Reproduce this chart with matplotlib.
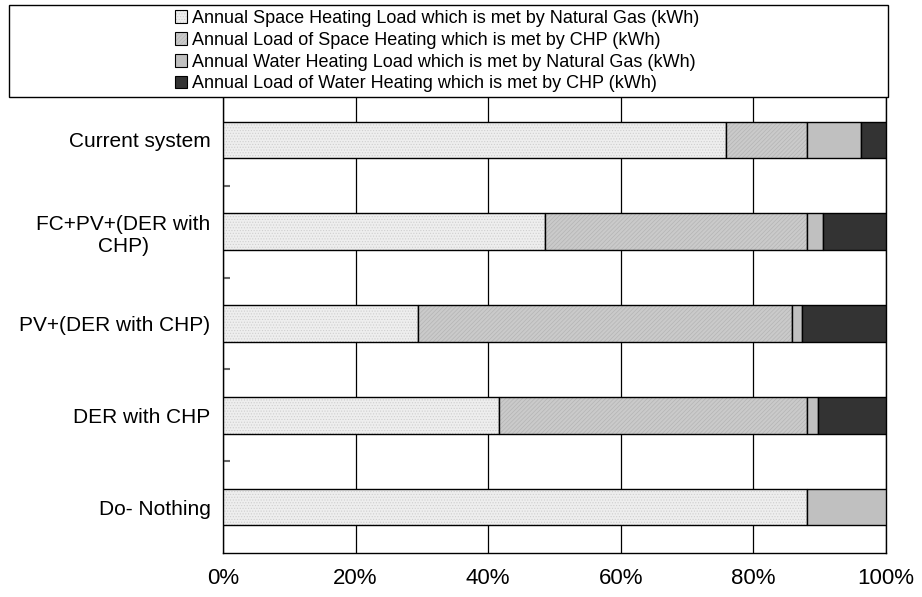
import matplotlib.pyplot as plt
import matplotlib.patches as mpatches
import numpy as np

plt.rcParams['font.family'] = ['Liberation Sans', 'DejaVu Sans']
plt.rcParams['hatch.linewidth'] = 0.5

scenarios = ['Current system', 'FC+PV+(DER with\nCHP)', 'PV+(DER with CHP)',
             'DER with CHP', 'Do- Nothing']
# shares in percent
space_gas = [75.9, 48.6, 29.4, 41.6, 88.1]
space_chp = [12.2, 39.5, 56.4, 46.5, 0.0]
water_gas = [8.1, 2.4, 1.5, 1.6, 11.9]
water_chp = [3.8, 9.5, 12.7, 10.3, 0.0]

series_labels = ['Annual Space Heating Load which is met by Natural Gas (kWh)',
                 'Annual Load of Space Heating which is met by CHP (kWh)',
                 'Annual Water Heating Load which is met by Natural Gas (kWh)',
                 'Annual Load of Water Heating which is met by CHP (kWh)']
face_colors = ['#eeeeee', '#cacaca', '#c0c0c0', '#333333']
hatches = ['......', '////////', None, None]
hatch_colors = ['#cfcfcf', '#b4b4b4', '#c0c0c0', '#333333']

fig = plt.figure(figsize=(9.22, 5.97), dpi=100)
ax = fig.add_axes([223/922, 44/597, 663/922, 459/597])

y = np.arange(len(scenarios))
left = np.zeros(len(scenarios))
handles = []
for vals, lab, fc, h, hc in zip([space_gas, space_chp, water_gas, water_chp],
                                series_labels, face_colors, hatches, hatch_colors):
    vals = np.array(vals)
    mask = vals > 0
    bars = ax.barh(y[mask], vals[mask], left=left[mask], height=0.4,
                   color=fc, edgecolor='black', linewidth=1.0, zorder=3,
                   hatch=h)
    for b in bars:
        b._hatch_color = plt.matplotlib.colors.to_rgba(hc)
    left = left + vals
    p = mpatches.Patch(facecolor=fc, edgecolor='black', linewidth=0.8,
                       hatch=h, label=lab)
    p._hatch_color = plt.matplotlib.colors.to_rgba(hc)
    handles.append(p)

ax.set_xlim(0, 100)
ax.set_ylim(len(scenarios) - 0.5, -0.5)
ax.set_xticks(np.arange(0, 101, 20))
ax.set_xticklabels([f'{v}%' for v in range(0, 101, 20)], fontsize=16)
ax.set_yticks(y)
ax.set_yticklabels(scenarios, fontsize=15, multialignment='center')
ax.set_yticks(np.arange(0.5, len(scenarios) - 0.5, 1), minor=True)
ax.tick_params(axis='y', which='major', length=0, pad=9)
ax.tick_params(axis='y', which='minor', direction='in', length=5, width=1.5,
               color='#666666')
ax.tick_params(axis='x', length=0, pad=11)
ax.grid(axis='x', color='black', linewidth=0.9, zorder=0)
ax.set_axisbelow(True)
for s in ax.spines.values():
    s.set_color('black')
    s.set_linewidth(1.0)

# legend box across the top
box = mpatches.Rectangle((9/922, 500/597), 879/922, 92/597, transform=fig.transFigure,
                         facecolor='white', edgecolor='black', linewidth=1.0, zorder=4)
fig.patches.append(box)
fig.legend(handles=handles, loc='upper left', bbox_to_anchor=(164/922, 598/597),
           frameon=False, fontsize=13, handlelength=0.7, handleheight=0.7,
           handletextpad=0.25, labelspacing=0.27, borderpad=0.1)

fig.savefig('out.png', dpi=100)
